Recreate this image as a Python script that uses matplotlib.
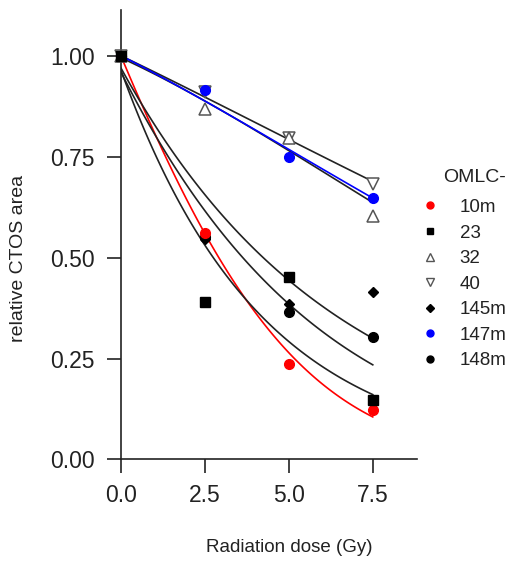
import numpy as np
import matplotlib
matplotlib.use("Agg")
import matplotlib.pyplot as plt
from matplotlib.lines import Line2D

plt.rcParams['font.family'] = ['Liberation Sans', 'DejaVu Sans']

dose = [0, 2.5, 5, 7.5]

# relative CTOS area per cell line
omlc_10m = [1.0, 0.560, 0.236, 0.123]
omlc_23 = [1.0, 0.389, 0.451, 0.147]
omlc_32 = [1.0, 0.867, 0.795, 0.604]
omlc_40 = [1.0, 0.910, 0.797, 0.682]
omlc_145m = [1.0, 0.545, 0.384, 0.414]
omlc_147m = [1.0, 0.915, 0.749, 0.647]
omlc_148m = [1.0, 0.550, 0.366, 0.304]

# fitted curves: y = a * exp(-b*D - c*D^2), parameters
fit_a = [1.000, 0.965, 0.995, 1.000, 0.970, 1.000, 0.960]
fit_b = [0.198, 0.239, 0.0386, 0.040, 0.1564, 0.0424, 0.172]
fit_c = [0.0136, 0.0, 0.0028, 0.0013, 0.0, 0.00208, 0.00213]
fit_col = ['#ff0000', '#222222', '#222222', '#222222', '#222222', '#0000ff', '#222222']

fig = plt.figure(figsize=(5.12, 5.74), dpi=100)
ax = fig.add_axes([0.236, 0.1995, 0.578, 0.783])

D = np.linspace(0, 7.5, 100)
for a, b, c, col in zip(fit_a, fit_b, fit_c, fit_col):
    ax.plot(D, a * np.exp(-b * D - c * D ** 2), color=col, lw=1.2, zorder=2)

kw = dict(ls='none', clip_on=False, zorder=3)
ax.plot(dose, omlc_40, marker='v', ms=8, mfc='white', mec='#555555', mew=1.1, **kw)
ax.plot(dose, omlc_32, marker='^', ms=8, mfc='white', mec='#555555', mew=1.1, **kw)
ax.plot(dose, omlc_147m, marker='o', ms=7, color='#0000ff', **kw)
ax.plot(dose, omlc_148m, marker='o', ms=7, color='black', **kw)
ax.plot(dose, omlc_145m, marker='D', ms=5.5, color='black', **kw)
ax.plot(dose, omlc_10m, marker='o', ms=7, color='#ff0000', **kw)
ax.plot(dose, omlc_23, marker='s', ms=6.5, color='black', **kw)

ax.set_xlim(0, 8.81)
ax.set_ylim(0, 1.113)
ax.set_xticks([0, 2.5, 5, 7.5])
ax.set_xticklabels(['0.0', '2.5', '5.0', '7.5'])
ax.set_yticks([0, 0.25, 0.5, 0.75, 1.0])
ax.set_yticklabels(['0.00', '0.25', '0.50', '0.75', '1.00'])
ax.tick_params(length=10, width=1.2, labelsize=16.5, color='#222222', labelcolor='#222222')
ax.tick_params(axis='y', pad=9)
ax.tick_params(axis='x', pad=8)
for s in ['top', 'right']:
    ax.spines[s].set_visible(False)
for s in ['left', 'bottom']:
    ax.spines[s].set_linewidth(1.2)
    ax.spines[s].set_color('#222222')

ax.set_xlabel('Radiation dose (Gy)', fontsize=13.5, color='#222222')
ax.set_ylabel('relative CTOS area', fontsize=14, color='#222222')
ax.xaxis.set_label_coords(0.568, -0.177)
ax.yaxis.set_label_coords(-0.318, 0.448)

labels = ['10m', '23', '32', '40', '145m', '147m', '148m']
handles = [
    Line2D([], [], ls='none', marker='o', ms=5, color='#ff0000'),
    Line2D([], [], ls='none', marker='s', ms=5, color='black'),
    Line2D([], [], ls='none', marker='^', ms=6, mfc='white', mec='#555555', mew=1),
    Line2D([], [], ls='none', marker='v', ms=6, mfc='white', mec='#555555', mew=1),
    Line2D([], [], ls='none', marker='D', ms=4.5, color='black'),
    Line2D([], [], ls='none', marker='o', ms=5, color='#0000ff'),
    Line2D([], [], ls='none', marker='o', ms=5, color='black'),
]
fig.text(443 / 512, 1 - 177 / 574, 'OMLC-', fontsize=14, color='#222222',
         ha='left', va='center')
fig.legend(handles, labels, loc='upper left',
           bbox_to_anchor=(0.788, 0.683), frameon=False, fontsize=13.5,
           handlelength=1.0, handletextpad=1.1, labelspacing=0.45,
           labelcolor='#222222')

fig.savefig('out.png', dpi=100)
